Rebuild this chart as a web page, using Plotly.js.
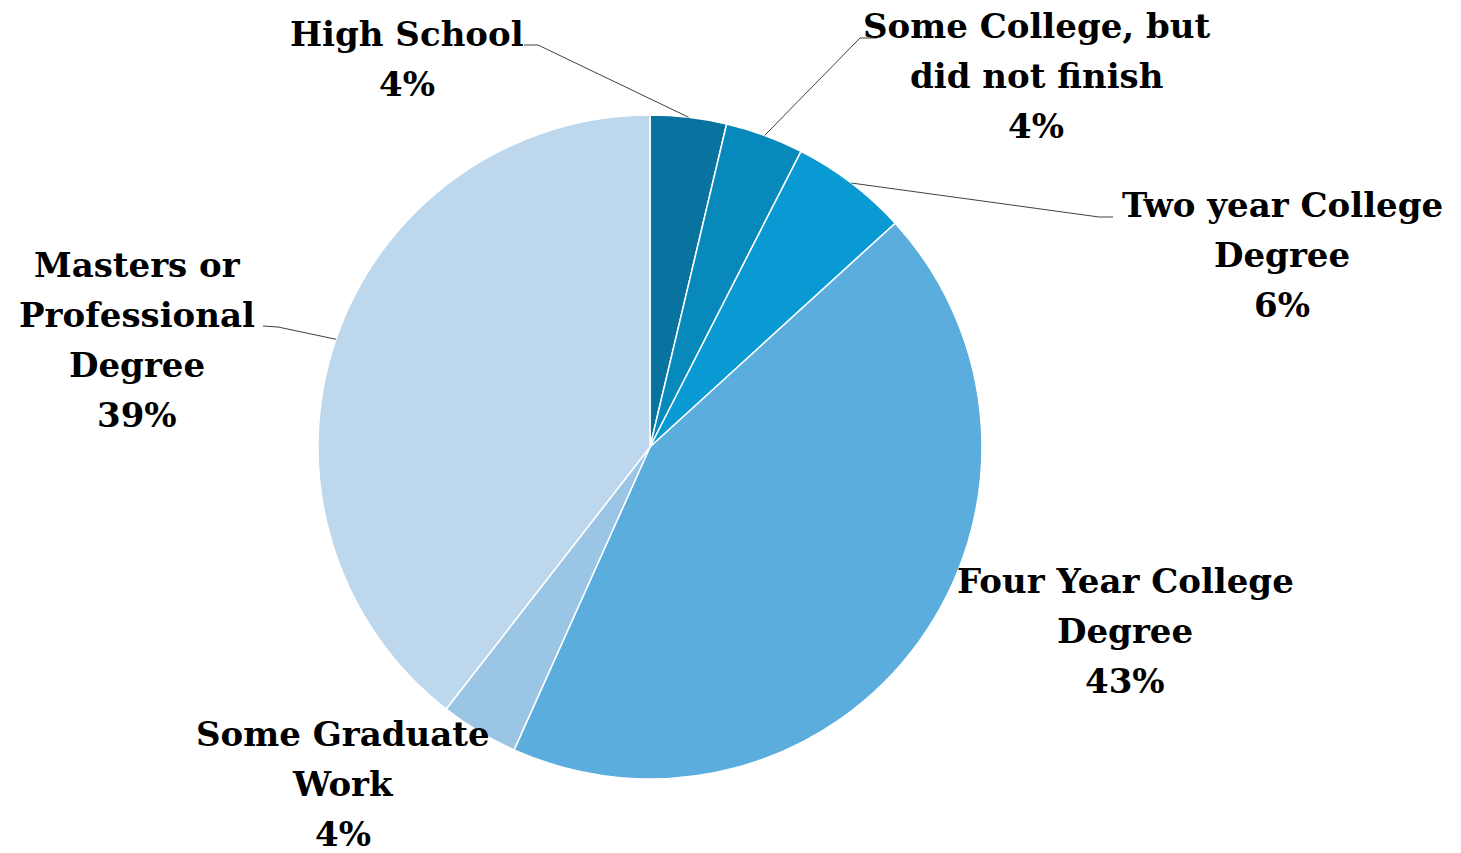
<!DOCTYPE html>
<html>
<head>
<meta charset="utf-8">
<script src="https://cdn.plot.ly/plotly-3.0.1.min.js"></script>
<style>html,body{margin:0;padding:0;background:#fff;}#chart{width:1461px;height:853px;}</style>
</head>
<body>
<div id="chart"></div>
<script>
// ---- data ----
const labels = ['High School', 'Some College, but<br>did not finish', 'Two year College<br>Degree', 'Four Year College<br>Degree', 'Some Graduate<br>Work', 'Masters or<br>Professional<br>Degree'];
const values = [3.7, 3.8, 5.7, 43.4, 3.8, 39.4];
const colors = ['#07739e', '#0789bb', '#0a9ad3', '#5badde', '#9ac5e5', '#bdd7ed'];

// ---- layout (pixel positions) ----
const W = 1461, H = 853;
const pieBox = {x0: 318, x1: 982, y0: 115, y1: 779};
const labelPos = [
  {x: 407, y: 34}, {x: 1036, y: 26}, {x: 1282, y: 205},
  {x: 1125, y: 581}, {x: 343, y: 734}, {x: 137, y: 265}
];
const lineGap = 50;
const leaders = {
  0: [[524, 45], [538, 45]],
  1: [[877, 38], [860, 38]],
  2: [[1113, 217], [1099, 217]],
  5: [[263, 326], [278, 327]]
};
const fontFam = 'DejaVu Serif';
const fontSize = 34;

const px = x => x / W;
const py = y => 1 - y / H;

const cx = (pieBox.x0 + pieBox.x1) / 2, cy = (pieBox.y0 + pieBox.y1) / 2;
const r = (pieBox.x1 - pieBox.x0) / 2;
const total = values.reduce((a, b) => a + b, 0);

const annotations = [];
const shapes = [];
let cum = 0;
values.forEach((v, i) => {
  const lines = labels[i].split('<br>').concat([Math.round(v / total * 100) + '%']);
  lines.forEach((t, k) => {
    annotations.push({
      xref: 'paper', yref: 'paper', x: px(labelPos[i].x), y: py(labelPos[i].y + k * lineGap),
      xanchor: 'center', yanchor: 'middle', showarrow: false, text: '<b>' + t + '</b>',
      font: {family: fontFam, size: fontSize, color: '#000'}
    });
  });
  const a = (cum + v / 2) / total * 2 * Math.PI;
  cum += v;
  if (leaders[i]) {
    const ex = cx + r * Math.sin(a), ey = cy - r * Math.cos(a);
    const [p0, p1] = leaders[i];
    shapes.push({
      type: 'path', xref: 'paper', yref: 'paper',
      path: `M ${px(p0[0])} ${py(p0[1])} L ${px(p1[0])} ${py(p1[1])} L ${px(ex)} ${py(ey)}`,
      line: {color: '#404040', width: 1}
    });
  }
});

const trace = {
  type: 'pie', labels: labels.map(l => l.replace(/<br>/g, ' ')), values: values,
  sort: false, direction: 'clockwise', rotation: 0,
  marker: {colors: colors, line: {color: '#ffffff', width: 1.5}},
  textinfo: 'none', hoverinfo: 'label+percent',
  domain: {x: [px(pieBox.x0), px(pieBox.x1)], y: [py(pieBox.y1), py(pieBox.y0)]},
  showlegend: false
};

Plotly.newPlot('chart', [trace], {
  width: W, height: H, margin: {l: 0, r: 0, t: 0, b: 0},
  paper_bgcolor: '#ffffff', showlegend: false,
  annotations: annotations, shapes: shapes
}, {displayModeBar: false, staticPlot: true});
</script>
</body>
</html>
